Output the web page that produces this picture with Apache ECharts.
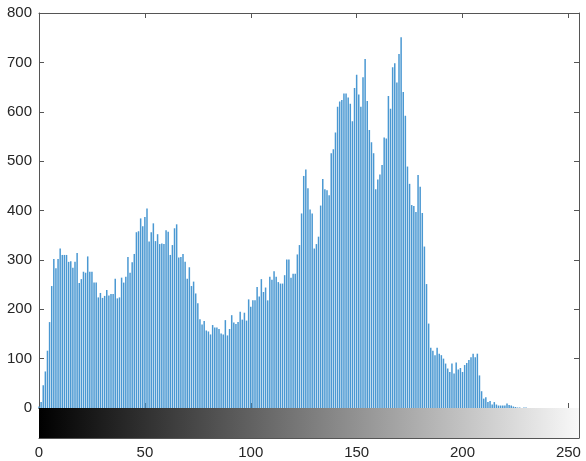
<!DOCTYPE html>
<html>
<head>
<meta charset="utf-8">
<script src="https://cdn.jsdelivr.net/npm/echarts@6/dist/echarts.min.js"></script>
<style>
    html, body { margin: 0; padding: 0; background: #fff; }
    #chart { width: 586px; height: 461px; }
</style>
</head>
<body>
<div id="chart"></div>
<script>
// histogram counts for gray levels 0..255
const counts = [
    3, 12, 46, 74, 116, 174, 247, 302, 283, 302,
    323, 310, 310, 310, 296, 297, 284, 296, 314, 253,
    261, 276, 274, 307, 276, 276, 254, 254, 224, 233,
    223, 227, 239, 228, 231, 231, 262, 222, 224, 264,
    254, 266, 306, 274, 295, 312, 356, 358, 384, 368,
    387, 404, 337, 356, 374, 338, 352, 332, 333, 332,
    360, 357, 310, 330, 364, 372, 305, 306, 312, 296,
    262, 285, 247, 256, 232, 212, 180, 169, 176, 157,
    155, 149, 168, 163, 163, 160, 151, 149, 178, 147,
    160, 188, 173, 170, 174, 195, 179, 193, 177, 220,
    205, 218, 218, 245, 226, 261, 235, 244, 218, 266,
    260, 277, 266, 255, 252, 252, 269, 301, 301, 264,
    272, 272, 311, 330, 394, 470, 483, 445, 402, 394,
    323, 332, 347, 410, 464, 443, 441, 431, 516, 524,
    558, 610, 621, 624, 637, 637, 629, 616, 581, 648,
    675, 635, 610, 670, 707, 622, 563, 538, 516, 443,
    463, 473, 492, 548, 546, 632, 606, 690, 698, 659,
    717, 751, 640, 592, 489, 454, 411, 409, 397, 472,
    448, 395, 327, 251, 171, 122, 116, 107, 122, 110,
    107, 100, 90, 80, 73, 90, 70, 92, 78, 81,
    73, 87, 91, 97, 103, 110, 103, 110, 66, 34,
    19, 22, 12, 14, 7, 12, 7, 5, 5, 5,
    5, 9, 6, 5, 3, 2, 1, 1, 0, 1,
    1, 0, 0, 0, 0, 0, 0, 0, 0, 0,
    0, 0, 0, 0, 0, 0, 0, 0, 0, 0,
    0, 0, 0, 0, 0, 0
];
const grayRange = [0, 255];
const xTicks = [0, 50, 100, 150, 200, 250];
const yTicks = [0, 100, 200, 300, 400, 500, 600, 700, 800];

const lineColor = "#555555";
const textColor = "#262626";
const fontFamily = "Liberation Sans, Arial, sans-serif";

const boxAxis = (extra) => Object.assign({
    type: "value",
    axisLine: { show: true, onZero: false, lineStyle: { color: lineColor, width: 1 } },
    axisTick: { show: true, inside: true, length: 5, lineStyle: { color: lineColor } },
    axisLabel: { show: false },
    splitLine: { show: false }
}, extra);

const xStep = xTicks[1] - xTicks[0];
const yStep = yTicks[1] - yTicks[0];

const option = {
    animation: false,
    backgroundColor: "#fff",
    grid: [
        { left: 39, right: 7, top: 13, height: 395 },
        { left: 39, right: 7, top: 408, height: 30 }
    ],
    xAxis: [
        boxAxis({ gridIndex: 0, position: "bottom", min: grayRange[0], max: grayRange[1], interval: xStep }),
        boxAxis({ gridIndex: 0, position: "top", min: grayRange[0], max: grayRange[1], interval: xStep }),
        boxAxis({
            gridIndex: 1, position: "bottom", min: grayRange[0], max: grayRange[1], interval: xStep,
            axisLabel: {
                show: true, color: textColor, fontSize: 15, fontFamily: fontFamily, margin: 7,
                showMaxLabel: false
            }
        }),
        boxAxis({ gridIndex: 1, position: "top", min: grayRange[0], max: grayRange[1], interval: xStep })
    ],
    yAxis: [
        boxAxis({
            gridIndex: 0, position: "left", min: yTicks[0], max: yTicks[yTicks.length - 1], interval: yStep,
            axisLabel: { show: true, color: textColor, fontSize: 15, fontFamily: fontFamily, margin: 7 }
        }),
        boxAxis({ gridIndex: 0, position: "right", min: yTicks[0], max: yTicks[yTicks.length - 1], interval: yStep }),
        boxAxis({ gridIndex: 1, position: "left", min: 0, max: 1, interval: 0.5 }),
        boxAxis({ gridIndex: 1, position: "right", min: 0, max: 1, interval: 0.5 })
    ],
    series: [
        {
            type: "bar",
            xAxisIndex: 0,
            yAxisIndex: 0,
            barWidth: 1.5,
            silent: true,
            itemStyle: { color: "#4a98d2" },
            data: counts.map((v, i) => [i, v])
        },
        {
            // gray level colour bar under the histogram
            type: "custom",
            xAxisIndex: 2,
            yAxisIndex: 2,
            silent: true,
            data: [[grayRange[0], grayRange[1]]],
            renderItem: function (params, api) {
                const p0 = api.coord([api.value(0), 1]);
                const p1 = api.coord([api.value(1), 0]);
                return {
                    type: "rect",
                    shape: { x: p0[0], y: p0[1], width: p1[0] - p0[0], height: p1[1] - p0[1] },
                    style: {
                        fill: new echarts.graphic.LinearGradient(0, 0, 1, 0, [
                            { offset: 0, color: "#000000" },
                            { offset: 1, color: "#f8f8f8" }
                        ])
                    },
                    z2: -1
                };
            }
        }
    ]
};

const myChart = echarts.init(document.getElementById("chart"));
myChart.setOption(option);
</script>
</body>
</html>
